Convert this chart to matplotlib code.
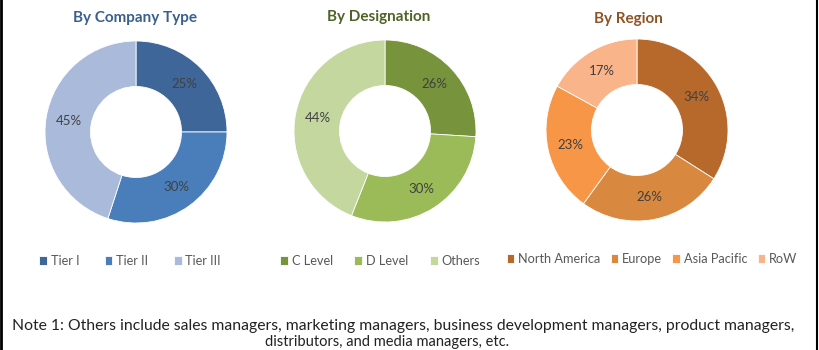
import matplotlib
matplotlib.use("Agg")
import matplotlib.pyplot as plt
from matplotlib.lines import Line2D
import numpy as np

plt.rcParams['font.family'] = ['Lato', 'DejaVu Sans']

# ---- data ----
company_labels = ["Tier I", "Tier II", "Tier III"]
company_values = [25, 30, 45]
design_labels = ["C Level", "D Level", "Others"]
design_values = [26, 30, 44]
region_labels = ["North America", "Europe", "Asia Pacific", "RoW"]
region_values = [34, 26, 23, 17]

titles = ["By Company Type", "By Designation", "By Region"]
note1 = "Note 1: Others include sales managers, marketing managers, business development managers, product managers,"
note2 = "distributors, and media managers, etc."

company_colors = ["#3F6699", "#4A7EBB", "#A9BADA"]
design_colors = ["#77933C", "#9BBB59", "#C4D79F"]
region_colors = ["#B7692C", "#D9883F", "#F79646", "#F9B48A"]
title_colors = ["#3A5F8F", "#4F6228", "#8E5426"]

W, H = 820, 350
fig = plt.figure(figsize=(W / 100, H / 100), dpi=100)

def px_axes(cx, cy, r):
    return fig.add_axes([(cx - r) / W, 1 - (cy + r) / H, 2 * r / W, 2 * r / H])

charts = [
    (company_values, company_labels, company_colors, (136, 132), (135, 18), (130, 261), 2.0),
    (design_values, design_labels, design_colors, (385, 131), (379, 17), (380, 261), 1.7),
    (region_values, region_labels, region_colors, (637, 130), (628, 19), (652, 259), 0.8),
]

for i, (vals, labs, cols, (cx, cy), (tx, ty), (lx, ly), cs) in enumerate(charts):
    ax = px_axes(cx, cy, 91)
    wedges, texts = ax.pie(vals, colors=cols, startangle=90, counterclock=False,
                           radius=1.0, wedgeprops=dict(width=0.5, edgecolor='white', linewidth=0.6))
    ax.set_xlim(-1.0, 1.0)
    ax.set_ylim(-1.0, 1.0)
    ax.set_aspect('equal')
    for v, w in zip(vals, wedges):
        mid = np.deg2rad((w.theta1 + w.theta2) / 2)
        ax.text(0.75 * np.cos(mid), 0.75 * np.sin(mid), f"{v}%", ha='center', va='center',
                fontsize=9.5, color='#404040')
    fig.text(tx / W, 1 - ty / H, titles[i], ha='center', va='center', fontsize=11,
             fontweight='bold', color=title_colors[i])
    fig.legend(wedges, labs, loc='center', bbox_to_anchor=(lx / W, 1 - ly / H), ncol=len(labs),
               frameon=False, fontsize=9.2, handlelength=0.6, handleheight=0.6,
               handletextpad=0.3, columnspacing=cs, labelcolor='#595959')

fig.text(12 / W, 1 - 326 / H, note1, ha='left', va='center', fontsize=11.3, color='#222222')
fig.text(265 / W, 1 / H, note2, ha='left', va='bottom', fontsize=10.5, color='#222222')

fig.add_artist(Line2D([1 / W, 1 / W], [0, 1], color='black', linewidth=2, transform=fig.transFigure))
fig.add_artist(Line2D([817.5 / W, 817.5 / W], [0, 1], color='black', linewidth=1.5, transform=fig.transFigure))

fig.savefig("out.png", dpi=100)
